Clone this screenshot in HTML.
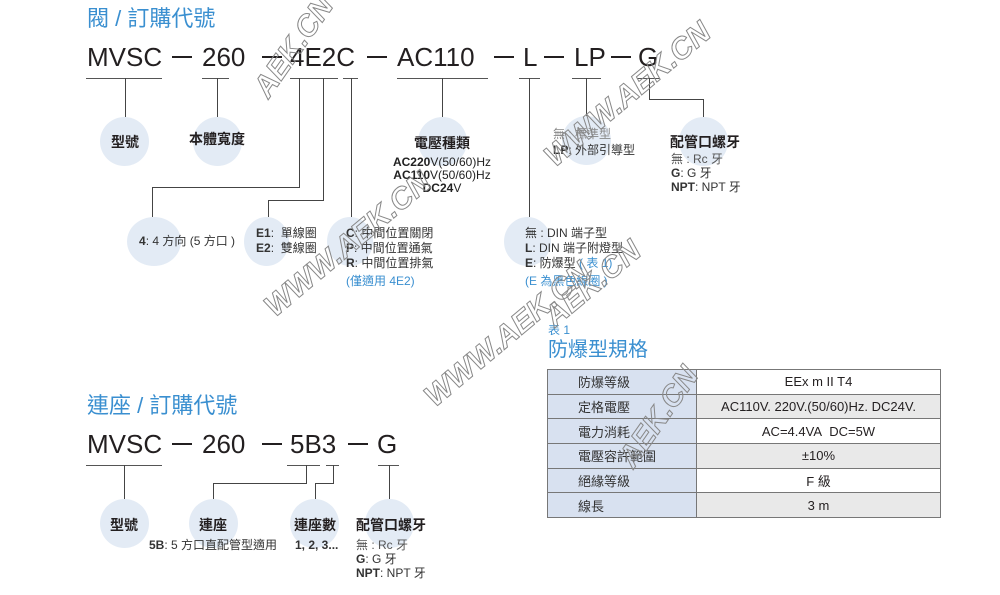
<!DOCTYPE html>
<html><head><meta charset="utf-8">
<style>
*{margin:0;padding:0;box-sizing:border-box}
body{width:1000px;height:595px;background:#fff;position:relative;overflow:hidden;font-family:"Liberation Sans","Noto Sans CJK TC",sans-serif;color:#231f20}
.a{position:absolute;white-space:nowrap}
.code{font-size:26px;line-height:26px;top:44px;color:#231f20}
.code2{top:431px}
.dash{position:absolute;height:2px;background:#231f20}
.ul{position:absolute;height:1px;background:#555}
.v{position:absolute;width:1px;background:#444}
.h{position:absolute;height:1px;background:#444}
.c{position:absolute;border-radius:50%;background:#e3ebf5}
.lab{font-size:14px;font-weight:bold;line-height:16px;transform:translate(-50%,-50%)}
.s{font-size:12px;line-height:14px;color:#333}
.blue{color:#3a8fd0}
.wm{position:absolute;font-size:30px;font-weight:bold;font-style:italic;color:transparent;-webkit-text-stroke:1px #888;white-space:nowrap;transform-origin:left bottom}
table{position:absolute;left:547px;top:369px;width:394px;border-collapse:collapse;font-size:13px}
td{border:1.5px solid #777;height:24.7px;padding:0}
td.l{background:#d8e1f0;width:149px;padding-left:30px;color:#333}
td.r{text-align:center}
tr:nth-child(even) td.r{background:#e9e9e9}
</style></head><body>

<div class="a blue" style="left:87px;top:6px;font-size:22px;line-height:26px">閥 / 訂購代號</div>

<div class="a code" style="left:87px">MVSC</div>
<div class="dash" style="left:172px;top:56px;width:20px"></div>
<div class="a code" style="left:202px">260</div>
<div class="dash" style="left:262px;top:56px;width:20px"></div>
<div class="a code" style="left:290px">4E2C</div>
<div class="dash" style="left:367px;top:56px;width:20px"></div>
<div class="a code" style="left:397px">AC110</div>
<div class="dash" style="left:494px;top:56px;width:20px"></div>
<div class="a code" style="left:523px">L</div>
<div class="dash" style="left:544px;top:56px;width:20px"></div>
<div class="a code" style="left:574px">LP</div>
<div class="dash" style="left:611px;top:56px;width:20px"></div>
<div class="a code" style="left:638px">G</div>

<div class="ul" style="left:86px;top:78px;width:76px"></div>
<div class="ul" style="left:202px;top:78px;width:27px"></div>
<div class="ul" style="left:290px;top:78px;width:48px"></div>
<div class="ul" style="left:343px;top:78px;width:15px"></div>
<div class="ul" style="left:397px;top:78px;width:91px"></div>
<div class="ul" style="left:519px;top:78px;width:21px"></div>
<div class="ul" style="left:572px;top:78px;width:29px"></div>
<div class="ul" style="left:637px;top:78px;width:23px"></div>

<div class="c" style="left:100px;top:117px;width:49px;height:49px"></div>
<div class="c" style="left:193px;top:117px;width:49px;height:49px"></div>
<div class="c" style="left:418px;top:117px;width:49px;height:49px"></div>
<div class="c" style="left:562px;top:116px;width:49px;height:49px"></div>
<div class="c" style="left:679px;top:117px;width:49px;height:49px"></div>
<div class="c" style="left:127px;top:217px;width:54px;height:49px"></div>
<div class="c" style="left:244px;top:217px;width:45px;height:49px"></div>
<div class="c" style="left:327px;top:217px;width:46px;height:49px"></div>
<div class="c" style="left:504px;top:217px;width:47px;height:49px"></div>

<div class="v" style="left:125px;top:78px;height:39px"></div>
<div class="v" style="left:217px;top:78px;height:39px"></div>
<div class="v" style="left:442px;top:78px;height:39px"></div>
<div class="v" style="left:586px;top:78px;height:38px"></div>
<div class="v" style="left:649px;top:78px;height:21px"></div>
<div class="h" style="left:649px;top:99px;width:55px"></div>
<div class="v" style="left:703px;top:99px;height:18px"></div>
<div class="v" style="left:299px;top:78px;height:110px"></div>
<div class="h" style="left:152px;top:187px;width:148px"></div>
<div class="v" style="left:152px;top:187px;height:30px"></div>
<div class="v" style="left:323px;top:78px;height:122px"></div>
<div class="h" style="left:268px;top:200px;width:56px"></div>
<div class="v" style="left:268px;top:200px;height:17px"></div>
<div class="v" style="left:351px;top:78px;height:139px"></div>
<div class="v" style="left:529px;top:78px;height:139px"></div>

<div class="a lab" style="left:125px;top:142px">型號</div>
<div class="a lab" style="left:217px;top:139px">本體寬度</div>
<div class="a lab" style="left:442px;top:143px">電壓種類</div>
<div class="a s" style="left:390px;top:156px;width:104px;text-align:center;line-height:13px;color:#222"><b>AC220</b>V(50/60)Hz<br><b>AC110</b>V(50/60)Hz<br><b>DC24</b>V</div>
<div class="a s" style="left:553px;top:126px;line-height:16px"><span style="color:#888">無 : 標準型</span><br><b>LP</b>: 外部引導型</div>
<div class="a" style="left:670px;top:134px;font-size:14px;font-weight:bold;line-height:16px">配管口螺牙</div>
<div class="a s" style="left:671px;top:152px;line-height:14px"><span style="color:#555">無 : Rc 牙</span><br><b>G</b>: G 牙<br><b>NPT</b>: NPT 牙</div>

<div class="a s" style="left:139px;top:234px"><b>4</b>: 4 方向 (5 方口 )</div>
<div class="a s" style="left:256px;top:226px;line-height:15px"><b>E1</b>:&nbsp; 單線圈<br><b>E2</b>:&nbsp; 雙線圈</div>
<div class="a s" style="left:346px;top:226px;line-height:15px"><b>C</b>: 中間位置關閉<br><b>P</b>: 中間位置通氣<br><b>R</b>: 中間位置排氣</div>
<div class="a s blue" style="left:346px;top:274px">(僅適用 4E2)</div>
<div class="a s" style="left:525px;top:226px;line-height:15px">無 : DIN 端子型<br><b>L</b>: DIN 端子附燈型<br><b>E</b>: 防爆型 <span class="blue">( 表 1)</span></div>
<div class="a s blue" style="left:525px;top:274px">(E 為黑色線圈 )</div>

<div class="a blue" style="left:548px;top:323px;font-size:12px;line-height:14px">表 1</div>
<div class="a blue" style="left:548px;top:338px;font-size:20px;line-height:24px">防爆型規格</div>
<table>
<tr><td class="l">防爆等級</td><td class="r">EEx m II T4</td></tr>
<tr><td class="l">定格電壓</td><td class="r">AC110V. 220V.(50/60)Hz. DC24V.</td></tr>
<tr><td class="l">電力消耗</td><td class="r">AC=4.4VA&nbsp; DC=5W</td></tr>
<tr><td class="l">電壓容許範圍</td><td class="r">±10%</td></tr>
<tr><td class="l">絕緣等級</td><td class="r">F 級</td></tr>
<tr><td class="l">線長</td><td class="r">3 m</td></tr>
</table>

<div class="a blue" style="left:87px;top:393px;font-size:22px;line-height:26px">連座 / 訂購代號</div>
<div class="a code code2" style="left:87px">MVSC</div>
<div class="dash" style="left:172px;top:443px;width:20px"></div>
<div class="a code code2" style="left:202px">260</div>
<div class="dash" style="left:262px;top:443px;width:20px"></div>
<div class="a code code2" style="left:290px">5B3</div>
<div class="dash" style="left:348px;top:443px;width:20px"></div>
<div class="a code code2" style="left:377px">G</div>

<div class="ul" style="left:86px;top:465px;width:76px"></div>
<div class="ul" style="left:287px;top:465px;width:33px"></div>
<div class="ul" style="left:326px;top:465px;width:13px"></div>
<div class="ul" style="left:378px;top:465px;width:21px"></div>

<div class="c" style="left:100px;top:499px;width:49px;height:49px"></div>
<div class="c" style="left:189px;top:499px;width:49px;height:49px"></div>
<div class="c" style="left:290px;top:499px;width:49px;height:49px"></div>
<div class="c" style="left:365px;top:499px;width:49px;height:49px"></div>

<div class="v" style="left:124px;top:465px;height:34px"></div>
<div class="v" style="left:306px;top:465px;height:18px"></div>
<div class="h" style="left:213px;top:483px;width:94px"></div>
<div class="v" style="left:213px;top:483px;height:16px"></div>
<div class="v" style="left:333px;top:465px;height:18px"></div>
<div class="h" style="left:315px;top:483px;width:19px"></div>
<div class="v" style="left:315px;top:483px;height:16px"></div>
<div class="v" style="left:389px;top:465px;height:34px"></div>

<div class="a lab" style="left:124px;top:525px">型號</div>
<div class="a lab" style="left:213px;top:525px">連座</div>
<div class="a lab" style="left:315px;top:525px">連座數</div>
<div class="a" style="left:356px;top:517px;font-size:14px;font-weight:bold;line-height:16px">配管口螺牙</div>
<div class="a s" style="left:149px;top:538px"><b>5B</b>: 5 方口直配管型適用</div>
<div class="a s" style="left:295px;top:538px"><b>1, 2, 3...</b></div>
<div class="a s" style="left:356px;top:538px;line-height:14px"><span style="color:#555">無 : Rc 牙</span><br><b>G</b>: G 牙<br><b>NPT</b>: NPT 牙</div>

<div class="wm" style="left:275px;top:70px;transform:rotate(-55deg)">AEK.CN</div>
<div class="wm" style="left:560px;top:140px;transform:rotate(-40deg)">WWW.AEK.CN</div>
<div class="wm" style="left:280px;top:290px;transform:rotate(-40deg)">WWW.AEK.CN</div>
<div class="wm" style="left:440px;top:380px;transform:rotate(-40deg)">WWW.AEK.CN</div>
<div class="wm" style="left:560px;top:300px;transform:rotate(-40deg)">AEK.CN</div>
<div class="wm" style="left:640px;top:440px;transform:rotate(-55deg)">AEK.CN</div>
</body></html>
